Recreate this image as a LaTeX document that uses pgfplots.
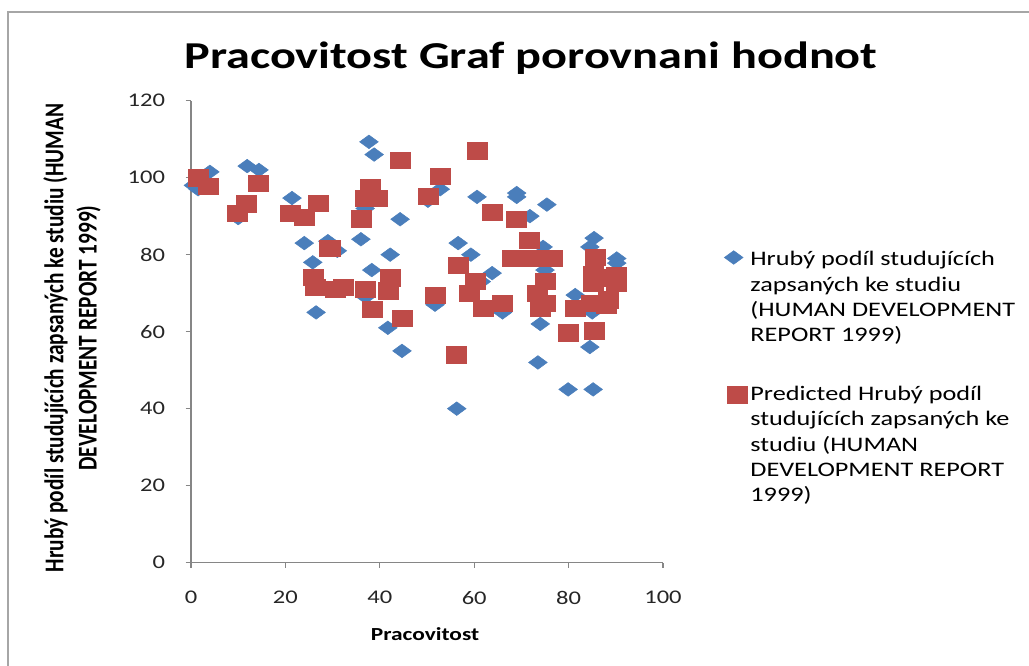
\documentclass[border=0pt]{standalone}
\usepackage{pgfplots}
\pgfplotsset{compat=1.18}
\usepackage{fontspec}
\setmainfont{Carlito}[FakeStretch=1.27]
\newfontfamily\plainfont{Carlito}
\definecolor{exblue}{RGB}{74,126,187}
\definecolor{exred}{RGB}{190,75,72}
\definecolor{axgray}{RGB}{134,134,134}
\begin{document}
\begin{tikzpicture}[x=0.75pt,y=0.75pt]
\useasboundingbox (0,0) rectangle (1029,666);
\draw[black!35, line width=0.9pt] (8,0) -- (8,654) -- (1029,654);
\node[anchor=base, font=\bfseries\fontsize{28.5}{34}\selectfont] at (531,597) {Pracovitost Graf porovnani hodnot};
\node[rotate=90, yscale=1.27, align=center, font=\plainfont\bfseries\fontsize{16}{19.5}\selectfont] at (72,328) {Hrubý podíl studujících zapsaných ke studiu (HUMAN\\DEVELOPMENT REPORT 1999)};
\node[anchor=base, font=\bfseries\fontsize{13.8}{16}\selectfont] at (425,25) {Pracovitost};
\begin{axis}[
  at={(143.25pt,77.5pt)}, anchor=south west,
  scale only axis, width=354pt, height=346.5pt,
  xmin=0, xmax=100, ymin=0, ymax=120,
  xtick={0,20,...,100}, ytick={0,20,...,120},
  axis x line=bottom, axis y line=left,
  axis line style={draw=axgray, line width=0.9pt, -},
  tick align=outside, major tick length=4pt,
  tick style={draw=axgray, line width=0.9pt},
  /pgf/number format/assume math mode=true,
  tick label style={font=\fontsize{14.5}{17}\selectfont, text=black!85},
  xticklabel style={yshift=-14pt},
  yticklabel style={xshift=-12pt},
  legend style={at={(1.121,0.686)}, anchor=north west, draw=none, fill=none,
    font=\fontsize{15.5}{19}\selectfont, nodes={align=left}, row sep=27.75pt},
  legend cell align=left,
]
\addplot[only marks, mark=diamond*, mark size=5.1pt, mark options={xscale=1.83, draw=exblue, fill=exblue}, legend image post style={yshift=30pt}] coordinates {
(1.5,97) (4,101.5) (11.9,103) (14.4,102) (10,89.5) (21.4,94.7) (24,83) (29,83.5) (31,81) (25.8,78) (26.5,65) (36,84) (37.7,109.3) (38.8,106) (36.9,92) (44.3,89.2) (38.3,76) (42.2,80) (37,69) (41.7,61) (44.7,55) (50.2,94) (52.8,97) (51.7,67) (56.3,40) (56.6,83) (59.3,80) (60.6,95) (63.8,75.2) (66,65) (69,96) (69,95) (71.8,90) (75.4,93) (74.6,82) (75,76) (74,62) (73.5,52) (79.9,45) (81.4,69.5) (85.4,84.3) (84.5,82) (90.2,79) (90.2,77.8) (85,65) (84.5,56) (85.2,45) (61.5,73) (0.5,98)
};
\addlegendentry{Hrubý podíl studujících\\zapsaných ke studiu\\(HUMAN DEVELOPMENT\\REPORT 1999)}
\addplot[only marks, mark=square*, mark size=6.1pt, mark options={xscale=1.23, draw=exred, fill=exred}, legend image post style={yshift=37.5pt, xshift=3pt}] coordinates {
(1.5,100) (3.7,97.8) (9.7,90.8) (11.8,93.2) (14.2,98.6) (21,90.8) (23.9,89.7) (26.9,93.4) (29.4,81.7) (25.8,74.2) (26.3,71.6) (30.5,71) (32.3,71.6) (36,89.3) (36.9,94.7) (37.9,97.5) (39.4,94.7) (44.3,104.5) (36.9,71) (38.3,65.8) (41.8,70.6) (42.2,74) (44.7,63.5) (50.2,95.2) (52.8,100.4) (51.7,69.5) (56.3,54) (56.6,77.3) (59,70) (60.2,73) (60.6,107) (61.9,66) (63.8,91) (66,67.4) (68.9,89.2) (71.6,83.8) (68,79) (71,79) (74,79) (76.5,79) (75,73) (73.3,70) (75,67.4) (74,66) (80,59.7) (81.4,66) (84.8,67.3) (88.3,68.3) (85.4,60.2) (85.6,79.4) (85.2,75) (85.2,72.6) (90.2,74.7) (90.2,72.5) (87.5,74) (88,67)
};
\addlegendentry{Predicted Hrubý podíl\\studujících zapsaných ke\\studiu (HUMAN\\DEVELOPMENT REPORT\\1999)}
\end{axis}
\end{tikzpicture}
\end{document}
